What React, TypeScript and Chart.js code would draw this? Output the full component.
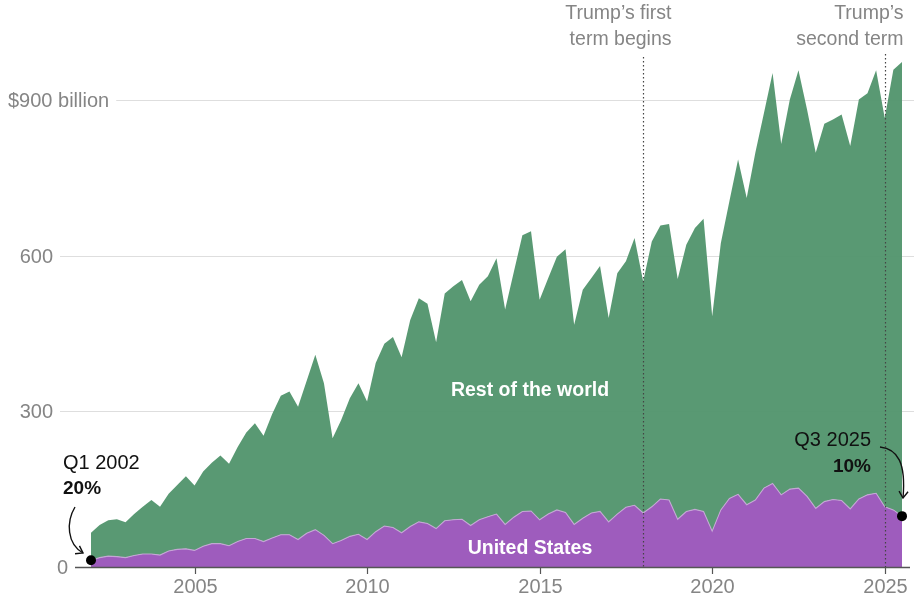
import React, { useEffect, useRef } from "react";
import { Chart, registerables } from "chart.js";

Chart.register(...registerables);

// ---- Data (billions of US dollars, quarterly, Q1 2002 – Q3 2025) ----
const startYear = 2002;
const quarterCount = 95;
const quarterLabels: string[] = [];
for (let i = 0; i < quarterCount; i++) {
  quarterLabels.push(`Q${(i % 4) + 1} ${startYear + Math.floor(i / 4)}`);
}

const usValues = [
  13, 18, 21, 20, 18, 22, 25, 25, 23, 31, 34, 35, 32, 40, 45, 45,
  41, 49, 55, 55, 49, 56, 62, 62, 53, 65, 72, 61, 45, 51, 59, 63,
  53, 68, 79, 76, 66, 78, 87, 84, 74, 89, 91, 92, 80, 91, 97, 102,
  82, 96, 107, 108, 91, 102, 110, 105, 82, 94, 104, 107, 87, 102, 115, 119,
  104, 116, 131, 129, 92, 107, 111, 107, 69, 110, 132, 140, 120, 129, 152, 161,
  139, 150, 152, 136, 113, 126, 130, 128, 112, 131, 139, 142, 116, 110, 98,
];

const restOfWorldValues = [
  53, 63, 69, 72, 68, 80, 91, 104, 93, 110, 124, 140, 125, 144, 156, 170,
  158, 182, 204, 222, 204, 239, 268, 276, 256, 294, 337, 293, 203, 232, 266, 291,
  266, 325, 351, 367, 338, 398, 431, 423, 359, 438, 450, 461, 432, 453, 463, 493,
  414, 472, 532, 539, 424, 455, 488, 507, 385, 440, 453, 473, 393, 464, 474, 515,
  446, 511, 527, 532, 463, 514, 542, 564, 414, 514, 573, 645, 591, 669, 723, 791,
  676, 751, 805, 745, 685, 728, 732, 744, 699, 770, 774, 815, 749, 848, 875,
];

const yTickValues = [0, 300, 600, 900];
const yTickLabels = ["0", "300", "600", "$900 billion"];
const xTickYears = [2005, 2010, 2015, 2020, 2025];

const termMarkers = [
  { at: "Q1 2018", lines: ["Trump’s first", "term begins"] },
  { at: "Q1 2025", lines: ["Trump’s", "second term"] },
];

const callouts = [
  { at: "Q1 2002", title: "Q1 2002", share: "20%" },
  { at: "Q3 2025", title: "Q3 2025", share: "10%" },
];

const GREEN = "rgba(80,147,107,0.95)";
const PURPLE = "rgb(158,92,189)";
const GREY_TEXT = "#858585";
const FONT = '"Liberation Sans", Arial, Helvetica, sans-serif';

function drawArrowHead(ctx: CanvasRenderingContext2D, x: number, y: number, dx: number, dy: number) {
  const ang = Math.atan2(dy, dx);
  const len = 8;
  const spread = 0.6;
  ctx.beginPath();
  ctx.moveTo(x - len * Math.cos(ang - spread), y - len * Math.sin(ang - spread));
  ctx.lineTo(x, y);
  ctx.lineTo(x - len * Math.cos(ang + spread), y - len * Math.sin(ang + spread));
  ctx.stroke();
}

const gridPlugin = {
  id: "grid",
  beforeDatasetsDraw(chart: any) {
    const ctx: CanvasRenderingContext2D = chart.ctx;
    const ys = chart.scales.y;
    const canvasW = chart.width;
    ctx.save();
    ctx.font = `20px ${FONT}`;
    ctx.textBaseline = "middle";
    yTickValues.forEach((v, i) => {
      const yp = Math.round(ys.getPixelForValue(v)) + 0.5;
      const label = yTickLabels[i];
      let textLeft: number;
      if (v === 0) {
        textLeft = 68 - ctx.measureText(label).width;
      } else if (label.startsWith("$")) {
        textLeft = 8;
      } else {
        textLeft = 53 - ctx.measureText(label).width;
      }
      ctx.fillStyle = GREY_TEXT;
      ctx.textAlign = "left";
      ctx.fillText(label, textLeft, yp + 1);
      if (v !== 0) {
        const lineStart = textLeft + ctx.measureText(label).width + 7;
        ctx.beginPath();
        ctx.strokeStyle = "rgba(0,0,0,0.13)";
        ctx.lineWidth = 1;
        ctx.moveTo(lineStart, yp);
        ctx.lineTo(canvasW, yp);
        ctx.stroke();
      }
    });
    ctx.restore();
  },
};

const decorPlugin = {
  id: "decor",
  afterDatasetsDraw(chart: any) {
    const ctx: CanvasRenderingContext2D = chart.ctx;
    const xs = chart.scales.x;
    const ys = chart.scales.y;
    const canvasW = chart.width;
    ctx.save();

    // baseline
    const baseY = ys.getPixelForValue(0);
    const by = Math.round(baseY) + 0.5;
    ctx.strokeStyle = "#555";
    ctx.lineWidth = 1.5;
    ctx.beginPath();
    ctx.moveTo(75, by);
    ctx.lineTo(canvasW - 4, by);
    ctx.stroke();

    // x ticks + labels
    xTickYears.forEach((yr) => {
      const idx = quarterLabels.indexOf(`Q1 ${yr}`);
      const xp = Math.round(xs.getPixelForValue(idx)) + 0.5;
      ctx.strokeStyle = "#555";
      ctx.lineWidth = 1.2;
      ctx.beginPath();
      ctx.moveTo(xp, baseY);
      ctx.lineTo(xp, baseY + 7);
      ctx.stroke();
      ctx.fillStyle = GREY_TEXT;
      ctx.textAlign = "center";
      ctx.textBaseline = "middle";
      ctx.font = `20px ${FONT}`;
      ctx.fillText(String(yr), xp, baseY + 20);
    });

    // term markers
    termMarkers.forEach((m, k) => {
      const idx = quarterLabels.indexOf(m.at);
      const xp = Math.round(xs.getPixelForValue(idx)) + 0.5;
      ctx.strokeStyle = "#444";
      ctx.lineWidth = 1.2;
      ctx.setLineDash([1.5, 2.5]);
      ctx.beginPath();
      ctx.moveTo(xp, k === 0 ? 57 : 54);
      ctx.lineTo(xp, baseY);
      ctx.stroke();
      ctx.setLineDash([]);
      ctx.fillStyle = GREY_TEXT;
      ctx.font = `19.5px ${FONT}`;
      ctx.textAlign = "right";
      ctx.textBaseline = "middle";
      const right = k === 0 ? xp + 28 : xp + 18;
      m.lines.forEach((ln, j) => ctx.fillText(ln, right, 14 + j * 26));
    });

    // series labels
    ctx.fillStyle = "#fff";
    ctx.font = `bold 19.5px ${FONT}`;
    ctx.textAlign = "center";
    ctx.textBaseline = "middle";
    ctx.fillText("Rest of the world", 530, 391);
    ctx.fillText("United States", 530, 549);

    // callouts
    ctx.fillStyle = "#111";
    ctx.strokeStyle = "#111";
    ctx.lineWidth = 1.4;
    const c0 = callouts[0];
    ctx.textAlign = "left";
    ctx.font = `20px ${FONT}`;
    ctx.fillText(c0.title, 63, 463);
    ctx.font = `bold 19px ${FONT}`;
    ctx.fillText(c0.share, 63, 489);
    ctx.beginPath();
    ctx.moveTo(75, 507);
    ctx.bezierCurveTo(66, 522, 67, 544, 83, 553);
    ctx.stroke();
    drawArrowHead(ctx, 83, 553, 16, 9);

    const c1 = callouts[1];
    ctx.textAlign = "right";
    ctx.font = `20px ${FONT}`;
    ctx.fillText(c1.title, 871, 440);
    ctx.font = `bold 19px ${FONT}`;
    ctx.fillText(c1.share, 871, 467);
    ctx.beginPath();
    ctx.moveTo(880, 447);
    ctx.bezierCurveTo(898, 449, 906, 463, 903, 498);
    ctx.stroke();
    drawArrowHead(ctx, 903, 498, -1, 12);

    ctx.restore();
  },
};

export default function App() {
  const canvasRef = useRef<HTMLCanvasElement | null>(null);

  useEffect(() => {
    if (!canvasRef.current) return;
    const lastIdx = usValues.length - 1;
    const chart = new Chart(canvasRef.current, {
      type: "line",
      data: {
        labels: quarterLabels,
        datasets: [
          {
            label: "United States",
            data: usValues,
            fill: "origin",
            backgroundColor: PURPLE,
            borderColor: "rgba(200,170,215,0.9)",
            borderWidth: 1.1,
            tension: 0,
            clip: false as any,
            pointRadius: (c: any) => (c.dataIndex === 0 || c.dataIndex === lastIdx ? 5 : 0),
            pointBackgroundColor: "#000",
            pointBorderWidth: 0,
            pointHoverRadius: 0,
          },
          {
            label: "Rest of the world",
            data: restOfWorldValues,
            fill: "-1",
            backgroundColor: GREEN,
            borderColor: "rgba(0,0,0,0)",
            borderWidth: 0,
            tension: 0,
            pointRadius: 0,
          },
        ],
      },
      options: {
        animation: false,
        responsive: false,
        devicePixelRatio: 1,
        layout: { padding: { left: 91, right: 12, top: 48, bottom: 34 } },
        plugins: { legend: { display: false }, tooltip: { enabled: false } },
        events: [],
        scales: {
          x: { type: "category", display: false, offset: false },
          y: { display: false, stacked: true, min: 0, max: 1000 },
        },
      },
      plugins: [gridPlugin, decorPlugin],
    });
    return () => chart.destroy();
  }, []);

  return (
    <div style={{ position: "absolute", left: 0, top: 0, width: 914, height: 601, background: "#fff" }}>
      <canvas ref={canvasRef} width={914} height={601} style={{ display: "block" }} />
    </div>
  );
}
